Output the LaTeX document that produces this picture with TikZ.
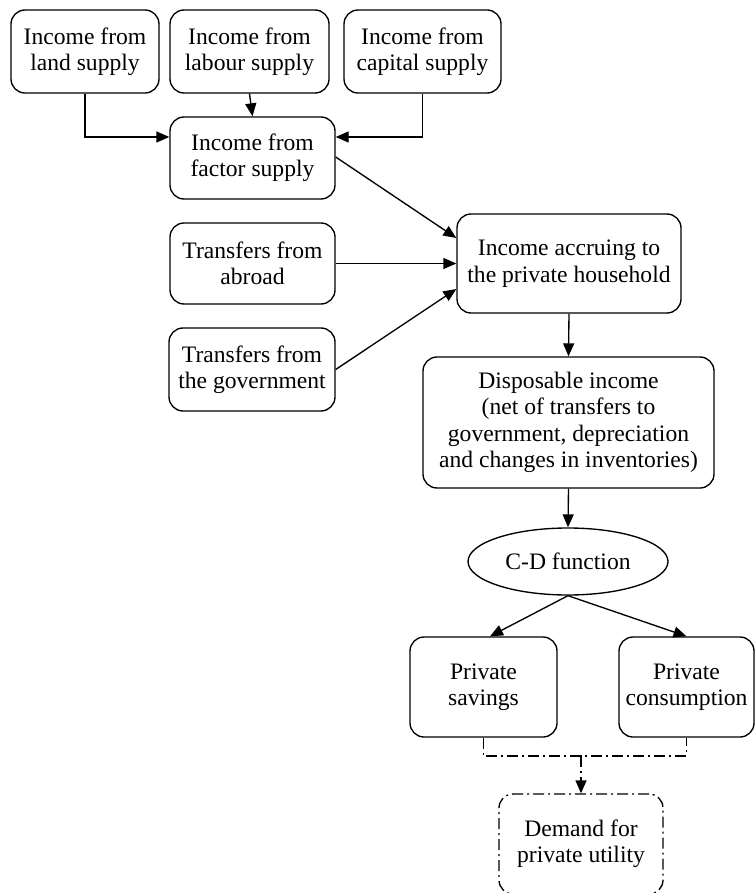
\documentclass[tikz,border=0pt]{standalone}
\usepackage{fontspec}
\setmainfont{Liberation Serif}
\usetikzlibrary{arrows.meta,shapes.geometric}
\tikzset{
  box/.style={draw, line width=1.35pt, rounded corners=14pt, inner sep=0pt, align=center,
    font=\fontsize{23.6}{26.4}\selectfont},
  ell/.style={draw, line width=1.35pt, ellipse, inner sep=0pt, align=center,
    font=\fontsize{23.6}{26.4}\selectfont},
  conn/.style={line width=1.35pt, -{Triangle[length=13pt,width=11pt]}},
  dashdot/.style={line width=1.35pt, dash pattern=on 11pt off 4pt on 2pt off 4pt}
}
\begin{document}
\begin{tikzpicture}[x=1pt,y=-1pt]
\useasboundingbox (0,0) rectangle (755,893);
\node[box, minimum width=148pt, minimum height=83pt] (land) at (85,51.5) {Income from\\land supply};
\node[box, minimum width=159pt, minimum height=83pt] (lab) at (249.5,51.5) {Income from\\labour supply};
\node[box, minimum width=157pt, minimum height=83pt] (cap) at (422.5,51.5) {Income from\\capital supply};
\node[box, minimum width=165pt, minimum height=82pt] (fac) at (252.5,158) {Income from\\factor supply};
\node[box, minimum width=165pt, minimum height=81pt] (abr) at (252.5,263.5) {Transfers from\\abroad};
\node[box, minimum width=166pt, minimum height=83pt] (gov) at (252,369.5) {Transfers from\\the government};
\node[box, minimum width=224pt, minimum height=99pt] (acc) at (569,263.5) {Income accruing to\\the private household};
\node[box, minimum width=291pt, minimum height=131pt] (dis) at (568.5,422.5) {Disposable income\\(net of transfers to\\government, depreciation\\and changes in inventories)};
\node[ell, minimum width=200pt, minimum height=67pt] (cd) at (568,561.5) {C-D function};
\node[box, minimum width=147pt, minimum height=100pt] (sav) at (483.5,687) {Private\\savings};
\node[box, minimum width=135pt, minimum height=100pt] (con) at (686.5,687) {Private\\consumption};
\node[box, dashdot, minimum width=164pt, minimum height=100pt] (dem) at (581,844) {Demand for\\private utility};
\coordinate (mid) at (581,756);

\draw[conn] (land.south) |- ([yshift=21pt]fac.west);
\draw[conn] (cap.south) |- ([yshift=21pt]fac.east);
\draw[conn] (lab.south) -- (fac.north);
\draw[conn] ([yshift=1pt]fac.east) -- ([yshift=25.5pt]acc.west);
\draw[conn] (abr.east) -- (acc.west);
\draw[conn] (gov.east) -- ([yshift=-25.5pt]acc.west);
\draw[conn] (acc.south) -- (dis.south |- dis.north);
\draw[conn] (dis.south) -- (cd.north);
\draw[conn] (cd.south) -- ([xshift=6.5pt]sav.north);
\draw[conn] (cd.south) -- (con.north);
\draw[dashdot] (sav.south) |- (mid) -| (con.south);
\draw[dashdot, -{Triangle[length=13pt,width=11pt]}] (mid) -- (dem.north);
\end{tikzpicture}
\end{document}
